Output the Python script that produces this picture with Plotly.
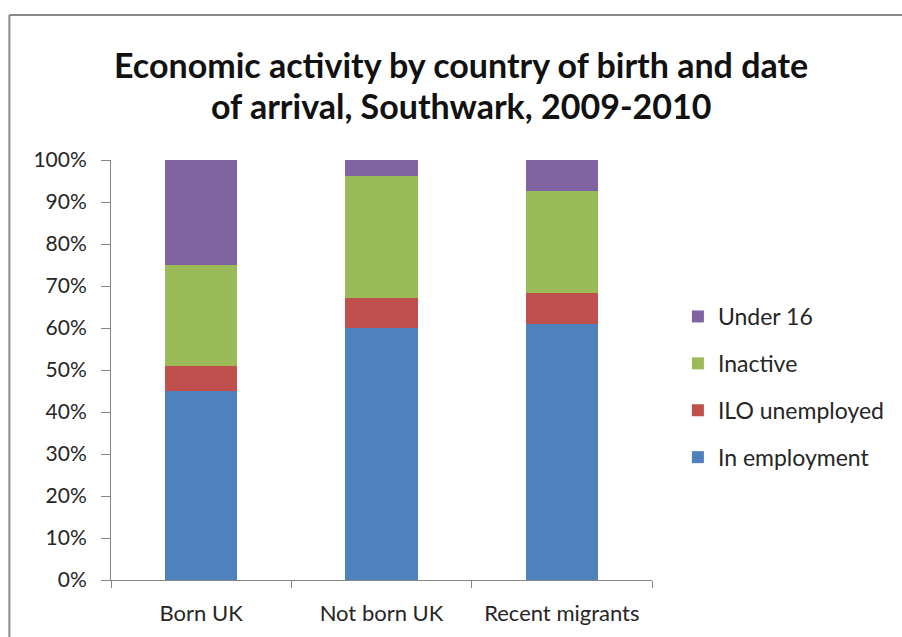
import plotly.graph_objects as go

# Share of population by economic activity (percent)
categories = ["Born UK", "Not born UK", "Recent migrants"]
in_employment = [45.0, 60.0, 61.0]
ilo_unemployed = [6.0, 7.1, 7.4]
inactive = [24.0, 29.2, 24.2]
under_16 = [25.0, 3.7, 7.4]

series_names = ["In employment", "ILO unemployed", "Inactive", "Under 16"]
series_values = [in_employment, ilo_unemployed, inactive, under_16]
series_colors = ["#4F81BD", "#C0504D", "#9BBB59", "#8064A2"]

y_tick_values = list(range(0, 101, 10))
y_tick_labels = [f"{v}%" for v in y_tick_values]

title_lines = ["Economic activity by country of birth and date",
               "of arrival, Southwark, 2009-2010"]

W, H = 902, 637
L, R, T, B = 111, 248, 160, 57
pw, ph = W - L - R, H - T - B


def px_to_paper_x(px):
    return (px - L) / pw


def px_to_paper_y(py):
    return (H - B - py) / ph


fig = go.Figure()
n = len(series_names)
for i, (name, vals, col) in enumerate(zip(series_names, series_values, series_colors)):
    fig.add_trace(go.Bar(
        x=categories, y=vals, name=name,
        marker=dict(color=col, line=dict(width=0)),
        legendgroup=f"g{i}",
        legendrank=n - i,  # top of the stack listed first
    ))

font_family = "Lato, Carlito, Calibri, sans-serif"
text_color = "#262626"

fig.update_layout(
    width=W, height=H,
    barmode="stack",
    bargap=0.6,
    margin=dict(l=L, r=R, t=T, b=B, pad=0),
    paper_bgcolor="white",
    plot_bgcolor="white",
    font=dict(family=font_family, color=text_color),
    showlegend=True,
    legend=dict(
        x=px_to_paper_x(680), xanchor="left",
        y=px_to_paper_y(295), yanchor="top",
        traceorder="grouped",
        tracegroupgap=14,
        font=dict(size=23, color=text_color, family=font_family),
        bgcolor="rgba(0,0,0,0)",
        itemwidth=30,
    ),
    xaxis=dict(
        showgrid=False,
        showline=True, linecolor="#868686", linewidth=1,
        ticks="outside", tickson="boundaries", ticklen=7, tickcolor="#868686",
        tickfont=dict(size=22, family=font_family, color=text_color),
        ticklabelstandoff=14,
        fixedrange=True,
    ),
    yaxis=dict(
        range=[0, 100],
        tickvals=y_tick_values, ticktext=y_tick_labels,
        showgrid=False, zeroline=False,
        showline=True, linecolor="#868686", linewidth=1,
        ticks="outside", ticklen=9, tickcolor="#868686",
        tickfont=dict(size=21, family=font_family, color=text_color),
        ticklabelstandoff=10,
        fixedrange=True,
    ),
)

# Title, two centred lines
title_centres = [65, 105]
for line, cy in zip(title_lines, title_centres):
    fig.add_annotation(
        text=f"<b>{line}</b>", showarrow=False,
        xref="paper", yref="paper",
        x=px_to_paper_x(462), y=px_to_paper_y(cy),
        xanchor="center", yanchor="middle",
        font=dict(size=34, family=font_family, color="#111111"),
    )

# Chart-area frame along top and left
frame_color = "#8a8a8a"
fig.add_shape(type="line", xref="paper", yref="paper",
              x0=px_to_paper_x(9), x1=px_to_paper_x(W + 5),
              y0=px_to_paper_y(15), y1=px_to_paper_y(15),
              line=dict(color=frame_color, width=2))
fig.add_shape(type="line", xref="paper", yref="paper",
              x0=px_to_paper_x(9), x1=px_to_paper_x(9),
              y0=px_to_paper_y(15), y1=px_to_paper_y(H + 5),
              line=dict(color=frame_color, width=2))

fig.write_html("out.html", config={"displayModeBar": False})
